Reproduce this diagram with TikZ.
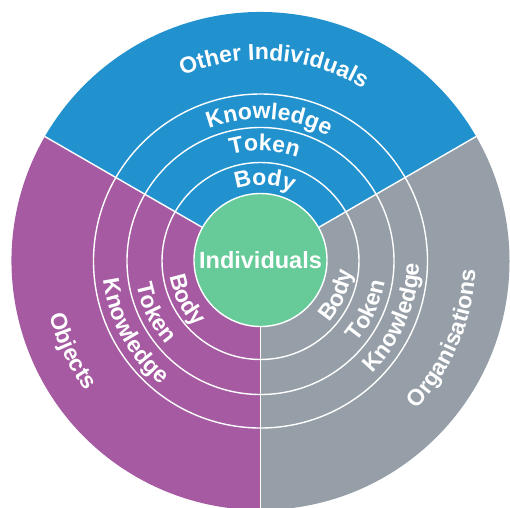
\documentclass[tikz,border=0pt]{standalone}
\usepackage{fontspec}
\setmainfont{Liberation Sans}
\usepackage{xcolor}
\usepackage{tikz}
\usetikzlibrary{decorations.text}
\definecolor{BlueOthers}{RGB}{34,146,207}
\definecolor{PurpleObjects}{RGB}{165,90,162}
\definecolor{GreyOrgs}{RGB}{150,159,168}
\definecolor{GreenCore}{RGB}{102,203,153}
\newcommand{\ringfont}{\bfseries\fontsize{23}{23}\selectfont\color{white}}

\begin{document}
\begin{tikzpicture}[x=1pt,y=1pt,
  ringline/.style={white,line width=1.4pt},
  ringtext/.style={decorate,decoration={text along path,text align=center,text={|\ringfont|#1}}}]
  \useasboundingbox (-260.5,-246) rectangle (249.5,261);
  \coordinate (O) at (0,0);
  \fill[BlueOthers] (O) -- (30:249) arc (30:150:249) -- cycle;
  \fill[PurpleObjects] (O) -- (150:249) arc (150:270:249) -- cycle;
  \fill[GreyOrgs] (O) -- (270:249) arc (270:390:249) -- cycle;
  \foreach \r in {98.5,133.5,167}
    \draw[ringline] (O) circle (\r);
  \foreach \a in {30,150,270}
    \draw[ringline] (\a:66) -- (\a:249);
  \node[circle,fill=GreenCore,draw=white,line width=1.4pt,minimum size=133pt,inner sep=0pt,
    text=white,font=\bfseries\fontsize{23.5}{23.5}\selectfont] (core) at (0,1) {Individuals};
  \path[ringtext=Body] (147:76) arc (147:27:76);
  \path[ringtext=Token] (148:110) arc (148:28:110);
  \path[ringtext=Knowledge] (146.5:142) arc (146.5:26.5:142);
  \path[ringtext=Other Individuals] (146:201) arc (146:26:201);
  \path[ringtext=Body] (147.5:92) arc (147.5:267.5:92);
  \path[ringtext=Token] (146:126) arc (146:266:126);
  \path[ringtext=Knowledge] (149:158.5) arc (149:269:158.5);
  \path[ringtext=Objects] (145.5:218) arc (145.5:265.5:218);
  \path[ringtext=Body] (276:92) arc (276:396:92);
  \path[ringtext=Token] (275:126) arc (275:395:126);
  \path[ringtext=Knowledge] (277:158.5) arc (277:397:158.5);
  \path[ringtext=Organisations] (277:215) arc (277:397:215);
\end{tikzpicture}
\end{document}
